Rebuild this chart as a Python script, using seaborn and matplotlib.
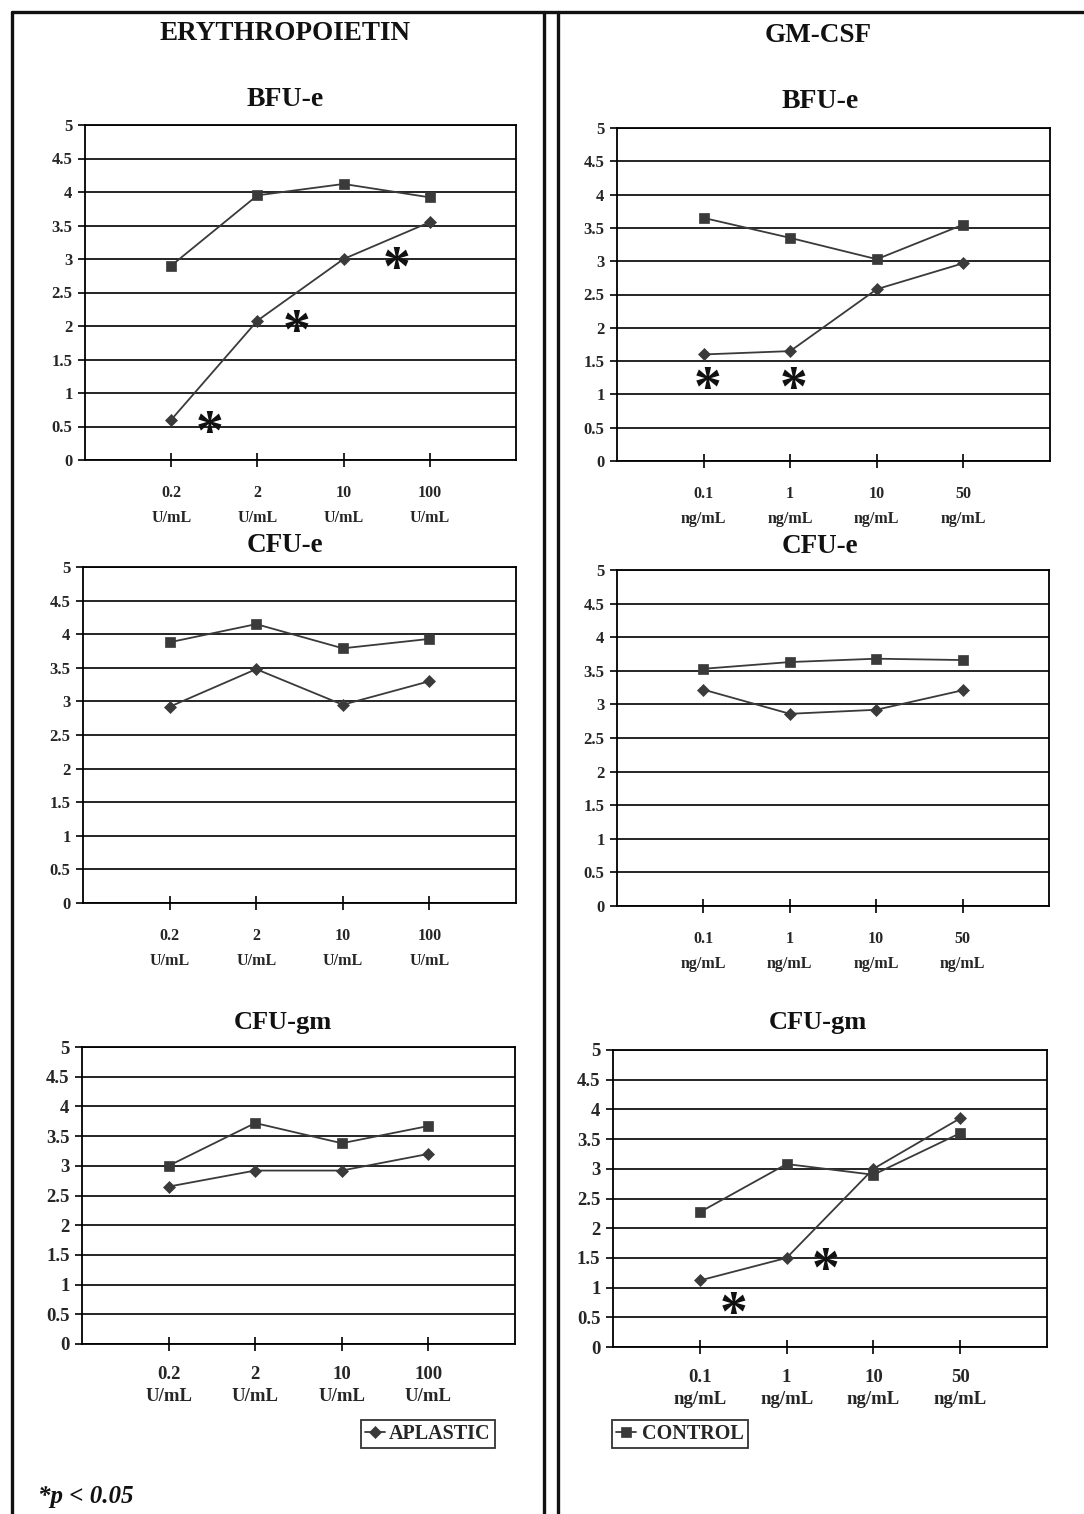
import numpy as np
import pandas as pd
import matplotlib
matplotlib.use("Agg")
import matplotlib.pyplot as plt
import seaborn as sns
from matplotlib.lines import Line2D

# ---------------- data ----------------
epo_doses = ["0.2", "2", "10", "100"]
epo_unit = "U/mL"
gm_doses = ["0.1", "1", "10", "50"]
gm_unit = "ng/mL"
groups = ["APLASTIC", "CONTROL"]

bfu_epo_aplastic = [0.60, 2.08, 3.00, 3.55]
bfu_epo_control = [2.90, 3.95, 4.12, 3.92]
bfu_gm_aplastic = [1.60, 1.65, 2.58, 2.97]
bfu_gm_control = [3.65, 3.35, 3.03, 3.55]

cfue_epo_aplastic = [2.92, 3.48, 2.95, 3.30]
cfue_epo_control = [3.88, 4.15, 3.79, 3.93]
cfue_gm_aplastic = [3.22, 2.86, 2.92, 3.21]
cfue_gm_control = [3.53, 3.63, 3.68, 3.66]

cfugm_epo_aplastic = [2.65, 2.92, 2.92, 3.20]
cfugm_epo_control = [3.00, 3.72, 3.38, 3.67]
cfugm_gm_aplastic = [1.12, 1.50, 3.00, 3.85]
cfugm_gm_control = [2.27, 3.08, 2.90, 3.60]

# significance markers (x in dose-slot units, y in value units)
bfu_epo_star_x = [1.45, 2.45, 3.61]
bfu_epo_star_y = [0.58, 2.08, 3.03]
bfu_gm_star_x = [1.05, 2.04]
bfu_gm_star_y = [1.26, 1.26]
cfugm_gm_star_x = [1.39, 2.45]
cfugm_gm_star_y = [0.76, 1.50]

# ---------------- style ----------------
sns.set_theme(style="white")
plt.rcParams["font.family"] = ["Liberation Serif", "DejaVu Serif"]
plt.rcParams["font.weight"] = "bold"

W, H = 1084, 1514
fig = plt.figure(figsize=(W / 100, H / 100), dpi=100)
fig.patch.set_facecolor("white")

LINE_C = "#3a3a3a"


def px(x, y):
    return x / W, 1 - y / H


def make_panel(rect, doses, unit, aplastic, control, tick_fs, xlab_fs,
               star_x=None, star_y=None, lsp=1.75, xpad=13):
    L, R, T, B = rect
    ax = fig.add_axes([L / W, 1 - B / H, (R - L) / W, (B - T) / H])
    pos = np.arange(1, len(doses) + 1)
    df = pd.DataFrame({
        "pos": np.concatenate([pos, pos]),
        "value": list(aplastic) + list(control),
        "group": [groups[0]] * len(pos) + [groups[1]] * len(pos),
    })
    sns.lineplot(data=df, x="pos", y="value", hue="group", style="group",
                 markers={"APLASTIC": "D", "CONTROL": "s"}, dashes=False,
                 palette={"APLASTIC": LINE_C, "CONTROL": LINE_C},
                 markersize=6.5, linewidth=1.3, markeredgewidth=0.5,
                 markeredgecolor=LINE_C, ax=ax, legend=True)
    handles, labels = ax.get_legend_handles_labels()
    ax.get_legend().remove()
    ax.set_xlim(0, 5)
    ax.set_ylim(0, 5)
    yt = np.arange(0, 5.01, 0.5)
    ax.set_yticks(yt)
    ax.set_yticklabels([("%g" % v) for v in yt], fontsize=tick_fs,
                       fontweight="bold")
    ax.set_xticks(pos)
    ax.set_xticklabels([f"{d}\n{unit}" for d in doses], fontsize=xlab_fs,
                       fontweight="bold", linespacing=lsp)
    ax.set_xlabel("")
    ax.set_ylabel("")
    ax.yaxis.grid(True, color="black", linewidth=1.2)
    ax.xaxis.grid(False)
    ax.set_axisbelow(True)
    for s in ax.spines.values():
        s.set_color("black")
        s.set_linewidth(1.3)
    ax.tick_params(axis="y", direction="out", length=5, width=1.2,
                   color="black", pad=4, left=True)
    ax.tick_params(axis="x", direction="inout", length=10, width=1.2,
                   color="black", pad=xpad, bottom=True)
    if star_x is not None:
        fs = 40
        for sx, sy in zip(star_x, star_y):
            ax.annotate("*", xy=(sx, sy), xytext=(0, -0.50 * fs),
                        textcoords="offset points", ha="center",
                        va="baseline", fontsize=fs, fontweight="bold",
                        color="#111111")
    return ax, handles, labels


make_panel((85, 516, 125, 460), epo_doses, epo_unit, bfu_epo_aplastic,
           bfu_epo_control, 12, 11.5, bfu_epo_star_x, bfu_epo_star_y)
make_panel((617, 1050, 128, 461), gm_doses, gm_unit, bfu_gm_aplastic,
           bfu_gm_control, 12, 11.5, bfu_gm_star_x, bfu_gm_star_y)
make_panel((83, 516, 567, 903), epo_doses, epo_unit, cfue_epo_aplastic,
           cfue_epo_control, 12, 11.5)
make_panel((617, 1049, 570, 906), gm_doses, gm_unit, cfue_gm_aplastic,
           cfue_gm_control, 12, 11.5)
ax_bl, hds, lbs = make_panel((82, 515, 1047, 1344), epo_doses, epo_unit,
                             cfugm_epo_aplastic, cfugm_epo_control, 13.5, 13.5,
                             lsp=1.35, xpad=11)
make_panel((613, 1047, 1050, 1347), gm_doses, gm_unit, cfugm_gm_aplastic,
           cfugm_gm_control, 13.5, 13.5, cfugm_gm_star_x, cfugm_gm_star_y,
           lsp=1.35, xpad=11)

# ---------------- titles ----------------
for (x, y, t, fs) in [(285, 33, "ERYTHROPOIETIN", 19.5), (818, 35, "GM-CSF", 19.5),
                      (285, 99, "BFU-e", 20), (820, 101, "BFU-e", 20),
                      (285, 545, "CFU-e", 19.5), (820, 547, "CFU-e", 19.5),
                      (283, 1022, "CFU-gm", 19), (818, 1022, "CFU-gm", 19)]:
    fig.text(*px(x, y), t, ha="center", va="center", fontsize=fs,
             fontweight="bold", color="#111111")

# ---------------- legends ----------------
hmap = dict(zip(lbs, hds))
leg1 = fig.legend([hmap["APLASTIC"]], ["APLASTIC"], loc="center",
                  bbox_to_anchor=px(428, 1434), frameon=True, fancybox=False,
                  edgecolor="black", handlelength=1.0,
                  handletextpad=0.2, borderpad=0.2, borderaxespad=0,
                  prop={"weight": "bold", "size": 14.5})
leg1.get_frame().set_linewidth(1.3)
leg2 = fig.legend([hmap["CONTROL"]], ["CONTROL"], loc="center",
                  bbox_to_anchor=px(680, 1434), frameon=True, fancybox=False,
                  edgecolor="black", handlelength=1.0,
                  handletextpad=0.3, borderpad=0.2, borderaxespad=0,
                  prop={"weight": "bold", "size": 14.5})
leg2.get_frame().set_linewidth(1.3)

fig.text(*px(38, 1497), "*p < 0.05", ha="left", va="center", fontsize=18,
         fontweight="bold", fontstyle="italic", color="#111111")

# ---------------- frame lines ----------------
for (x0, y0, x1, y1) in [(12, 12, 1084, 12), (12, 12, 12, 1514),
                         (544, 12, 544, 1514), (558, 12, 558, 1514)]:
    fig.add_artist(Line2D([x0 / W, x1 / W], [1 - y0 / H, 1 - y1 / H],
                          color="#111111", linewidth=2.4,
                          transform=fig.transFigure))

fig.savefig("out.png", dpi=100, facecolor="white")
